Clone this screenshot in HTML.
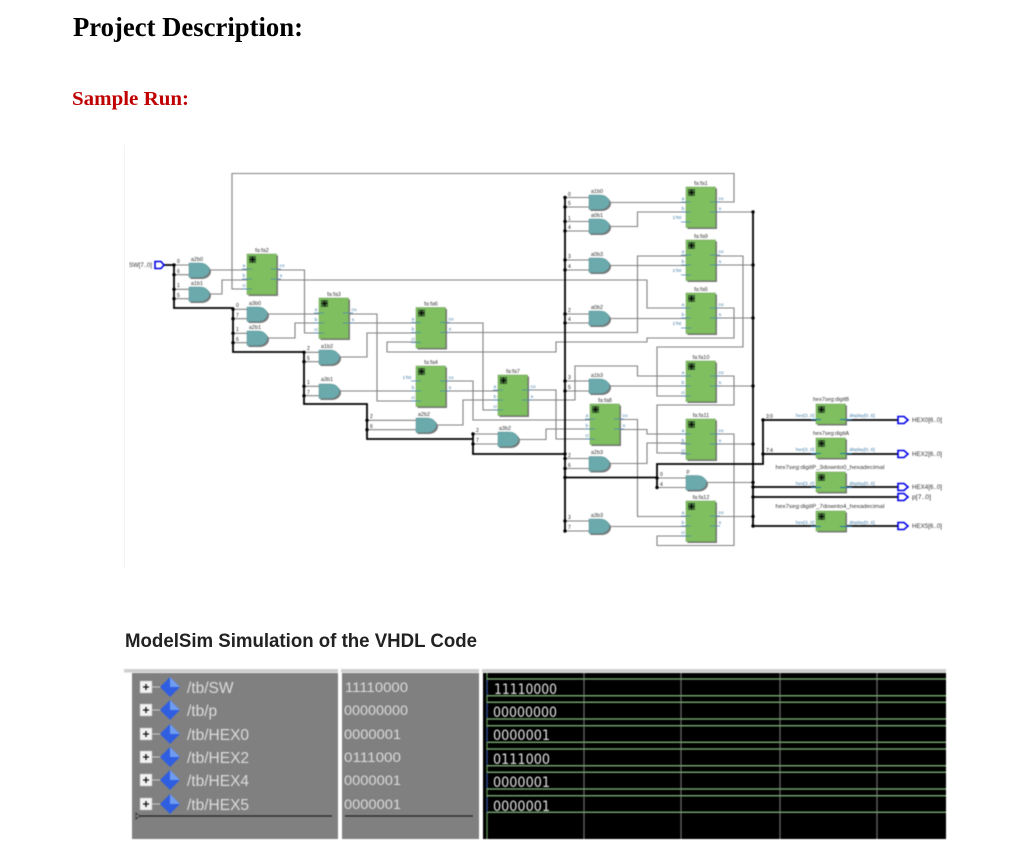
<!DOCTYPE html>
<html><head><meta charset="utf-8"><style>
html,body{margin:0;padding:0;background:#fff}
svg{display:block}
#sch{filter:blur(.5px)}
.n{font:5.5px "Liberation Sans",sans-serif;fill:#333;text-anchor:middle}
.p{font:4.8px "Liberation Sans",sans-serif;fill:#3f7ca8;text-anchor:middle}
.b{font:5px "Liberation Sans",sans-serif;fill:#222}
.o{font:6.2px "Liberation Sans",sans-serif;fill:#333}
.w{fill:none;stroke:#808080;stroke-width:1.1}
.t{fill:none;stroke:#000;stroke-width:1.8}
.d{fill:none;stroke:#000;stroke-width:3.4;stroke-linecap:round}
.k{fill:none;stroke:#0000e6;stroke-width:1.6;fill:#fff}
.s{font:15.5px "Liberation Sans",sans-serif;fill:#dcdcdc}
.v{font:14px "Liberation Sans",sans-serif;fill:#dcdcdc}
.m{font:14px "DejaVu Sans",sans-serif;fill:#e4e4e4}
</style></head><body>
<svg width="1024" height="864" viewBox="0 0 1024 864" xmlns="http://www.w3.org/2000/svg">
<defs>
<g id="g"><path d="M1.5 1.5H12.5C18.5 1.5 22 5.5 22 8.75C22 12 18.5 16 12.5 16H1.5Z" fill="#777"/><path d="M0 0H11C17 0 20.5 4 20.5 7.25C20.5 10.500 17 14.5 11 14.500H0Z" fill="#6aa9ac" stroke="#5b8f94" stroke-width=".5"/></g>
<g id="f"><rect x="1.500" y="1.500" width="29.500" height="40.500" fill="#777"/><rect width="29.500" height="40.500" fill="#7fbf5f" stroke="#6b9a55" stroke-width=".5"/><rect x="2" y="2" width="7" height="7" fill="#3f6b35"/><path d="M5.500 2.800V8.200M2.800 5.500H8.200" stroke="#000" stroke-width="1.100"/><path d="M-5 15H5M-5 25H5M-5 35H5M24 15H34M24 25H34" stroke="#4a86b0" stroke-width=".8"/></g>
<g id="h"><rect x="1.500" y="1.500" width="29.500" height="20" fill="#777"/><rect width="29.500" height="20" fill="#7fbf5f" stroke="#6b9a55" stroke-width=".5"/><rect x="2" y="2" width="7" height="7" fill="#3f6b35"/><path d="M5.500 2.800V8.200M2.800 5.500H8.200" stroke="#000" stroke-width="1.100"/><path d="M-5 15.500H5M24 15.500H36" stroke="#1f78a8" stroke-width="1"/></g>
</defs>

<text x="73" y="36" font-family="Liberation Serif" font-weight="bold" font-size="27" fill="#000" textLength="230" lengthAdjust="spacingAndGlyphs">Project Description:</text>
<text x="72" y="105" font-family="Liberation Serif" font-weight="bold" font-size="20.500" fill="#c00000" textLength="117" lengthAdjust="spacingAndGlyphs">Sample Run:</text>
<path d="M124.500 145V568" stroke="#f3f3f3" stroke-width="1"/>

<g id="sch">
<!-- grey wires -->
<path class="w" d="M251 289H232V173.500H734V202H710
M209 270H247M209 294H222V280H247
M270 270H304.500V333H319M270 280H647V308H686
M267 314H319M267 338H295V323H319
M342 314H377V401H416M342 323H416
M339 357H367V333H416
M416 342H387V352H556V342H647V338H734V308H710
M339 391H416
M440 323H483V410H498
M440 332.500H637.500V256H686
M710 256H743V347H657V396H686
M610 386H686M710 376H734V405H657V453H686
M440 381H473V420H590
M440 391H498
M436 425H463V400H498
M522 390H556V439H590
M522 400H575V366H637.500V376H686
M518 439.500H546V429H590
M614 419.500H637.500V516.500H686
M614 429.500H647V434H686
M610 463.500H647V443H686
M710 434H734V545.500H657V536H686
M610 526.500H686
M610 202.500H686M610 226.500H637.500V212H686
M610 265.500H686M610 318.500H686
M710 212H753M710 265H753M710 318H753M710 386H753M710 444H753M706 482.500H753M710 516.500H753
M174 265H189M174 274.700H189M174 289.300H189M174 298.700H189
M233 309.300H247M233 318.700H247M233 333.300H247M233 342.700H247
M304 352.300H319M304 361.700H319M304 386.300H319M304 395.700H319
M367 420.300H416M367 429.700H416
M473 434H498M473 444H498
M565 197.500H589M565 207H589M565 221.500H589M565 231H589M565 260H589M565 270H589M565 314H589M565 323H589M565 381H589M565 391H589M565 458.500H589M565 468.500H589M565 521H589M565 531H589
M657 478H686M657 487.500H686"/>
<!-- buses -->
<path class="t" d="M164 265H174V308H233V352H304V404H367V439H473M473 434V454H565
M565 196V531M565 477.500H657M657 488V464H763V420H816M763 454H816
M753 212V527M753 487H816M753 497H898M753 526H816
M846 420H898M846 454H898M846 487H898M846 526H898"/>
<path class="d" d="M174 265h.01M174 274.700h.01M174 289.300h.01M174 298.700h.01M233 309.300h.01M233 318.700h.01M233 333.300h.01M233 342.700h.01M304 352.300h.01M304 361.700h.01M304 386.300h.01M304 395.700h.01M367 420.300h.01M367 429.700h.01M473 434h.01M473 444h.01M565 197.500h.01M565 207h.01M565 221.500h.01M565 231h.01M565 260h.01M565 270h.01M565 314h.01M565 323h.01M565 381h.01M565 391h.01M565 454h.01M565 458.500h.01M565 468.500h.01M565 477.500h.01M565 521h.01M565 531h.01M657 478h.01M657 487.500h.01M753 212h.01M753 265h.01M753 318h.01M753 386h.01M753 444h.01M753 482.500h.01M753 487h.01M753 497h.01M753 516.500h.01M753 526h.01M763 420h.01M763 454h.01"/>

<!-- gates -->
<use href="#g" x="189" y="263"/><use href="#g" x="189" y="287"/><use href="#g" x="247" y="307"/><use href="#g" x="247" y="331"/><use href="#g" x="319" y="350"/><use href="#g" x="319" y="384"/><use href="#g" x="589" y="195"/><use href="#g" x="589" y="219"/><use href="#g" x="589" y="258"/><use href="#g" x="589" y="311"/><use href="#g" x="416" y="418"/><use href="#g" x="498" y="432"/><use href="#g" x="589" y="379"/><use href="#g" x="589" y="456.500"/><use href="#g" x="686" y="475.500"/><use href="#g" x="589" y="519"/>
<text class="n" x="197" y="261">a2b0</text><text class="n" x="197" y="285">a1b1</text><text class="n" x="255" y="305">a3b0</text><text class="n" x="255" y="329">a2b1</text><text class="n" x="327" y="348">a1b2</text><text class="n" x="327" y="381">a3b1</text><text class="n" x="597" y="193">a1b0</text><text class="n" x="597" y="217">a0b1</text><text class="n" x="597" y="256">a0b3</text><text class="n" x="597" y="309">a0b2</text><text class="n" x="424" y="416">a2b2</text><text class="n" x="505" y="430">a3b2</text><text class="n" x="597" y="377">a1b3</text><text class="n" x="597" y="454">a2b3</text><text class="n" x="688" y="473">p</text><text class="n" x="597" y="517">a3b3</text>

<!-- bit labels -->
<text class="b" x="177" y="263">0</text><text class="b" x="177" y="273">6</text><text class="b" x="177" y="287">1</text><text class="b" x="177" y="297">5</text>
<text class="b" x="236" y="307">0</text><text class="b" x="236" y="317">7</text><text class="b" x="236" y="331">1</text><text class="b" x="236" y="341">6</text>
<text class="b" x="307" y="350">2</text><text class="b" x="307" y="360">5</text><text class="b" x="307" y="384">1</text><text class="b" x="307" y="394">7</text>
<text class="b" x="370" y="418">2</text><text class="b" x="370" y="428">6</text><text class="b" x="476" y="432">2</text><text class="b" x="476" y="442">7</text>
<text class="b" x="568" y="196">0</text><text class="b" x="568" y="205">5</text><text class="b" x="568" y="220">1</text><text class="b" x="568" y="229">4</text><text class="b" x="568" y="258">3</text><text class="b" x="568" y="268">4</text><text class="b" x="568" y="312">2</text><text class="b" x="568" y="321">4</text><text class="b" x="568" y="379">3</text><text class="b" x="568" y="389">5</text><text class="b" x="568" y="457">2</text><text class="b" x="568" y="467">6</text><text class="b" x="568" y="519">3</text><text class="b" x="568" y="529">7</text><text class="b" x="660" y="476">0</text><text class="b" x="660" y="486">4</text>
<text class="b" x="766" y="418">3:0</text><text class="b" x="766" y="452">7:4</text>

<!-- full adders -->
<g transform="translate(247,254)"><use href="#f"/><text class="n" x="15" y="-2">fa:fa2</text><text class="p" x="-3" y="13">a</text><text class="p" x="-3" y="23">b</text><text class="p" x="-3" y="33">ci</text><text class="p" x="35" y="13">co</text><text class="p" x="34" y="23">s</text></g>
<g transform="translate(319,298)"><use href="#f"/><text class="n" x="15" y="-2">fa:fa3</text><text class="p" x="-3" y="13">a</text><text class="p" x="-3" y="23">b</text><text class="p" x="-3" y="33">ci</text><text class="p" x="35" y="13">co</text><text class="p" x="34" y="23">s</text></g>
<g transform="translate(416,307.500)"><use href="#f"/><text class="n" x="15" y="-2">fa:fa6</text><text class="p" x="-3" y="13">a</text><text class="p" x="-3" y="23">b</text><text class="p" x="-3" y="33">ci</text><text class="p" x="35" y="13">co</text><text class="p" x="34" y="23">s</text></g>
<g transform="translate(416,366)"><use href="#f"/><text class="n" x="15" y="-2">fa:fa4</text><text class="p" x="-9" y="13">1'h0</text><text class="p" x="-3" y="23">b</text><text class="p" x="-3" y="33">ci</text><text class="p" x="35" y="13">co</text><text class="p" x="34" y="23">s</text></g>
<g transform="translate(498,375)"><use href="#f"/><text class="n" x="15" y="-2">fa:fa7</text><text class="p" x="-3" y="13">a</text><text class="p" x="-3" y="23">b</text><text class="p" x="-3" y="33">ci</text><text class="p" x="35" y="13">co</text><text class="p" x="34" y="23">s</text></g>
<g transform="translate(590,404)"><use href="#f"/><text class="n" x="15" y="-2">fa:fa8</text><text class="p" x="-3" y="13">a</text><text class="p" x="-3" y="23">b</text><text class="p" x="-3" y="33">ci</text><text class="p" x="35" y="13">co</text><text class="p" x="34" y="23">s</text></g>
<g transform="translate(686,187)"><use href="#f"/><text class="n" x="15" y="-2">fa:fa1</text><text class="p" x="-3" y="13">a</text><text class="p" x="-3" y="23">b</text><text class="p" x="-9" y="32">1'h0</text><text class="p" x="35" y="13">co</text><text class="p" x="34" y="23">s</text></g>
<g transform="translate(686,240)"><use href="#f"/><text class="n" x="15" y="-2">fa:fa9</text><text class="p" x="-3" y="13">a</text><text class="p" x="-3" y="23">b</text><text class="p" x="-9" y="32">1'h0</text><text class="p" x="35" y="13">co</text><text class="p" x="34" y="23">s</text></g>
<g transform="translate(686,293)"><use href="#f"/><text class="n" x="15" y="-2">fa:fa5</text><text class="p" x="-3" y="13">a</text><text class="p" x="-3" y="23">b</text><text class="p" x="-9" y="32">1'h0</text><text class="p" x="35" y="13">co</text><text class="p" x="34" y="23">s</text></g>
<g transform="translate(686,361)"><use href="#f"/><text class="n" x="15" y="-2">fa:fa10</text><text class="p" x="-3" y="13">a</text><text class="p" x="-3" y="23">b</text><text class="p" x="-3" y="33">ci</text><text class="p" x="35" y="13">co</text><text class="p" x="34" y="23">s</text></g>
<g transform="translate(686,419)"><use href="#f"/><text class="n" x="15" y="-2">fa:fa11</text><text class="p" x="-3" y="13">a</text><text class="p" x="-3" y="23">b</text><text class="p" x="-3" y="33">ci</text><text class="p" x="35" y="13">co</text><text class="p" x="34" y="23">s</text></g>
<g transform="translate(686,501)"><use href="#f"/><text class="n" x="15" y="-2">fa:fa12</text><text class="p" x="-3" y="13">a</text><text class="p" x="-3" y="23">b</text><text class="p" x="-3" y="33">ci</text><text class="p" x="35" y="13">co</text><text class="p" x="34" y="23">s</text></g>

<!-- hex decoders -->
<g transform="translate(816,404)"><use href="#h"/><text class="n" x="15" y="-3">hex7seg:digitB</text><text class="p" x="-11" y="13">hex[3..0]</text><text class="p" x="46" y="13">display[0..6]</text></g>
<g transform="translate(816,438)"><use href="#h"/><text class="n" x="15" y="-3">hex7seg:digitA</text><text class="p" x="-11" y="13">hex[3..0]</text><text class="p" x="46" y="13">display[0..6]</text></g>
<g transform="translate(816,472)"><use href="#h"/><text class="n" x="14" y="-3" textLength="109" lengthAdjust="spacingAndGlyphs">hex7seg:digitP_3downto0_hexadecimal</text><text class="p" x="-11" y="13">hex[3..0]</text><text class="p" x="46" y="13">display[0..6]</text></g>
<g transform="translate(816,511)"><use href="#h"/><text class="n" x="14" y="-3" textLength="109" lengthAdjust="spacingAndGlyphs">hex7seg:digitP_7downto4_hexadecimal</text><text class="p" x="-11" y="13">hex[3..0]</text><text class="p" x="46" y="13">display[0..6]</text></g>

<!-- pins -->
<path class="k" d="M155 261.500H161L164 265L161 268.500H155Z"/>
<path class="k" d="M898 416.500H904L908 420L904 423.500H898Z"/>
<path class="k" d="M898 450.500H904L908 454L904 457.500H898Z"/>
<path class="k" d="M898 483.500H904L908 487L904 490.500H898Z"/>
<path class="k" d="M898 493.500H904L908 497L904 500.500H898Z"/>
<path class="k" d="M898 522.500H904L908 526L904 529.500H898Z"/>
<text class="o" x="129" y="267" textLength="23" lengthAdjust="spacingAndGlyphs">SW[7..0]</text>
<text class="o" x="912" y="422" textLength="30" lengthAdjust="spacingAndGlyphs">HEX0[6..0]</text>
<text class="o" x="912" y="456" textLength="30" lengthAdjust="spacingAndGlyphs">HEX2[6..0]</text>
<text class="o" x="912" y="489" textLength="30" lengthAdjust="spacingAndGlyphs">HEX4[6..0]</text>
<text class="o" x="912" y="499" textLength="19" lengthAdjust="spacingAndGlyphs">p[7..0]</text>
<text class="o" x="912" y="528" textLength="30" lengthAdjust="spacingAndGlyphs">HEX5[6..0]</text>
</g>

<text x="125" y="647" font-family="Liberation Sans" font-weight="bold" font-size="19" fill="#222" textLength="352" lengthAdjust="spacingAndGlyphs">ModelSim Simulation of the VHDL Code</text>

<!-- ModelSim -->
<g style="filter:blur(.4px)">
<rect x="124" y="669" width="214" height="3.500" fill="#cfcfcf"/><rect x="341" y="669" width="138" height="3.500" fill="#cfcfcf"/><rect x="482" y="669" width="464" height="3.500" fill="#cfcfcf"/>
<rect x="132" y="673" width="206" height="166" fill="#808080"/>
<rect x="342" y="673" width="137" height="166" fill="#808080"/>
<rect x="483" y="673" width="463" height="166" fill="#000"/>
<path d="M584 673V839M681 673V839M780 673V839M877 673V839" stroke="#666" stroke-width="1.300" fill="none"/>
<path d="M487 673V839" stroke="#5c8f58" stroke-width="1.300"/>
<path d="M487 679H946M487 695.700H946M487 702.300H946M487 719H946M487 725.700H946M487 742.300H946M487 749H946M487 765.700H946M487 772.300H946M487 789H946M487 795.700H946M487 812.300H946" stroke="#6f9f68" stroke-width="1.500" fill="none"/>
<path d="M487 680V695M487 703V718M487 727V742M487 750V765M487 773V788M487 797V812" stroke="#2a3f8f" stroke-width="1.300"/>

<g id="icons">
<path d="M152 687H162M152 710H162M152 734H162M152 757H162M152 780H162M152 804H162" stroke="#c8c8c8" stroke-width="1"/>
<path d="M140 681h12v12h-12zM140 704h12v12h-12zM140 728h12v12h-12zM140 751h12v12h-12zM140 774h12v12h-12zM140 798h12v12h-12z" fill="#f2f2f2" stroke="#bbb" stroke-width=".5"/>
<path d="M143 687h6M146 684v6M143 710h6M146 707v6M143 734h6M146 731v6M143 757h6M146 754v6M143 780h6M146 777v6M143 804h6M146 801v6" stroke="#111" stroke-width="1.300"/>
<path d="M170 677l10 10-10 10-10-10zM170 700l10 10-10 10-10-10zM170 724l10 10-10 10-10-10zM170 747l10 10-10 10-10-10zM170 770l10 10-10 10-10-10zM170 794l10 10-10 10-10-10z" fill="#2f5ee0"/>
<path d="M170 677l10 10h-10zM170 700l10 10h-10zM170 724l10 10h-10zM170 747l10 10h-10zM170 770l10 10h-10zM170 794l10 10h-10z" fill="#6f9cf0"/>
</g>
<text class="s" x="187" y="693">/tb/SW</text><text class="s" x="187" y="716">/tb/p</text><text class="s" x="187" y="740">/tb/HEX0</text><text class="s" x="187" y="763">/tb/HEX2</text><text class="s" x="187" y="786">/tb/HEX4</text><text class="s" x="187" y="810">/tb/HEX5</text>
<text class="v" x="345" y="692" textLength="63" lengthAdjust="spacingAndGlyphs">11110000</text>
<text class="v" x="344" y="715" textLength="64" lengthAdjust="spacingAndGlyphs">00000000</text>
<text class="v" x="344" y="739" textLength="57" lengthAdjust="spacingAndGlyphs">0000001</text>
<text class="v" x="344" y="762" textLength="57" lengthAdjust="spacingAndGlyphs">0111000</text>
<text class="v" x="344" y="785" textLength="57" lengthAdjust="spacingAndGlyphs">0000001</text>
<text class="v" x="344" y="809" textLength="57" lengthAdjust="spacingAndGlyphs">0000001</text>
<path d="M136 816H332M345 816H473" stroke="#222" stroke-width="1.200"/>
<path d="M136 813l4 3-4 3z" fill="#888" stroke="#222" stroke-width=".7"/>
<text class="m" x="494" y="694" textLength="63" lengthAdjust="spacingAndGlyphs">11110000</text>
<text class="m" x="493" y="717" textLength="64" lengthAdjust="spacingAndGlyphs">00000000</text>
<text class="m" x="493" y="740" textLength="57" lengthAdjust="spacingAndGlyphs">0000001</text>
<text class="m" x="493" y="764" textLength="57" lengthAdjust="spacingAndGlyphs">0111000</text>
<text class="m" x="493" y="787" textLength="57" lengthAdjust="spacingAndGlyphs">0000001</text>
<text class="m" x="493" y="811" textLength="57" lengthAdjust="spacingAndGlyphs">0000001</text>
</g>
</svg>
</body></html>
